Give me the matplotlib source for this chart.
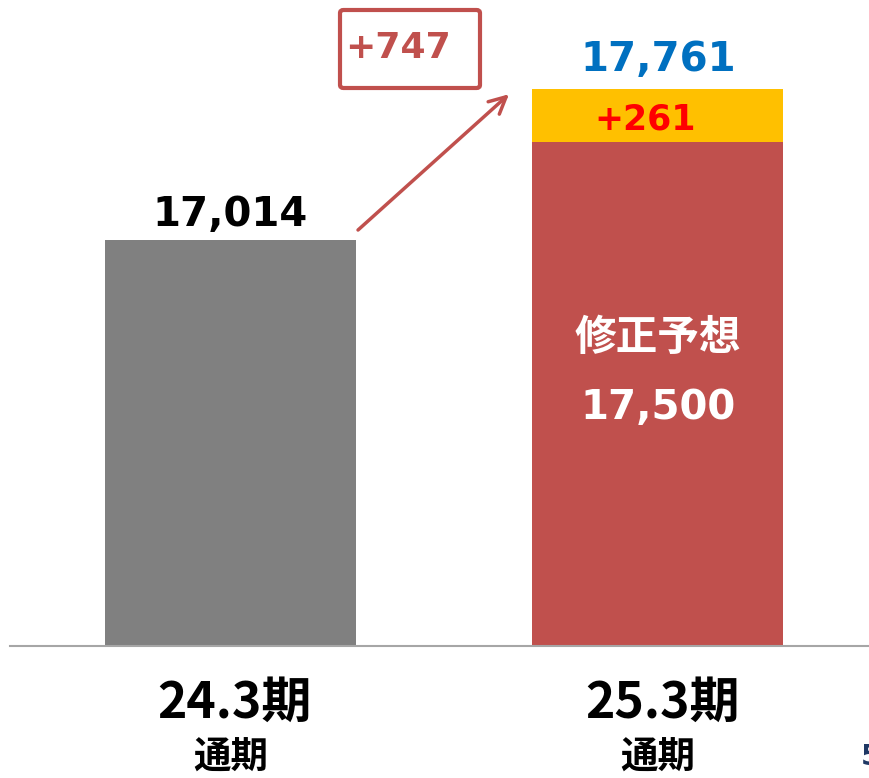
import matplotlib.pyplot as plt
from matplotlib.patches import FancyBboxPatch

plt.rcParams['font.family'] = ['DejaVu Sans', 'Noto Sans CJK JP']

# data
periods = ["24.3期", "25.3期"]
sub_labels = ["通期", "通期"]
prev_actual = 17014
revised_forecast = 17500
upside = 261
latest_total = revised_forecast + upside
growth = latest_total - prev_actual

GRAY = "#808080"
RED = "#C0504D"
YELLOW = "#FFC000"
BLUE = "#0070C0"
BASE = 15000
BAR_W = 0.587

fig = plt.figure(figsize=(8.69, 7.78), dpi=100)
ax = fig.add_axes([10 / 869, 132 / 778, 859 / 869, 646 / 778])

x = [0, 1]
ax.bar(x[0], prev_actual - BASE, bottom=BASE, width=BAR_W, color=GRAY)
ax.bar(x[1], revised_forecast - BASE, bottom=BASE, width=BAR_W, color=RED)
ax.bar(x[1], upside, bottom=revised_forecast, width=BAR_W, color=YELLOW)

ax.set_xlim(-0.516, 1.494)
ax.set_ylim(BASE, 18204)
for s in ["top", "left", "right"]:
    ax.spines[s].set_visible(False)
ax.spines["bottom"].set_color("#A6A6A6")
ax.spines["bottom"].set_linewidth(1.5)
ax.set_xticks([])
ax.set_yticks([])

# value labels
ax.text(x[0], prev_actual + 25, f"{prev_actual:,}", ha="center", va="bottom",
        fontsize=29, fontweight="bold", color="black")
ax.text(x[1], latest_total + 45, f"{latest_total:,}", ha="center", va="bottom",
        fontsize=29, fontweight="bold", color=BLUE)
ax.text(x[1] - 0.03, revised_forecast + upside / 2 - 20, f"+{upside}", ha="center", va="center",
        fontsize=25, fontweight="bold", color="#FF0000")
ax.text(x[1], 16530, "修正予想", ha="center", va="center", fontsize=30,
        fontweight="bold", color="white", family=['Noto Sans CJK JP', 'DejaVu Sans'])
ax.text(x[1], 16180, f"{revised_forecast:,}", ha="center", va="center",
        fontsize=29, fontweight="bold", color="white")

# growth arrow + boxed difference
ax.annotate("", xy=(x[1] - BAR_W / 2 - 0.05, latest_total - 15),
            xytext=(x[0] + BAR_W / 2, prev_actual + 40),
            arrowprops=dict(arrowstyle="->", color=RED, lw=2.5, mutation_scale=30))
fig.add_artist(FancyBboxPatch((340 / 869, 1 - 88 / 778), 140 / 869, 78 / 778,
                              transform=fig.transFigure, boxstyle="round,pad=0,rounding_size=0.004",
                              facecolor="none", edgecolor=RED, lw=3))
fig.text(398 / 869, 1 - 48 / 778, f"+{growth}", ha="center", va="center",
         fontsize=26, fontweight="bold", color=RED)

# category labels
xt = ax.get_xaxis_transform()
for xi, p, s in zip(x, periods, sub_labels):
    ax.text(xi + 0.01, -0.088, p, transform=xt, ha="center", va="center", fontsize=36,
            fontweight="bold", family=['Noto Sans CJK JP', 'DejaVu Sans'])
    ax.text(xi, -0.172, s, transform=xt, ha="center", va="center", fontsize=27,
            fontweight="bold", family=['Noto Sans CJK JP', 'DejaVu Sans'])

# page number cut off at the edge, as on the slide
fig.text(861 / 869, 1 - 757 / 778, "5", ha="left", va="center", fontsize=20,
         fontweight="bold", color="#1F3864")

fig.savefig("out.png", dpi=100)
